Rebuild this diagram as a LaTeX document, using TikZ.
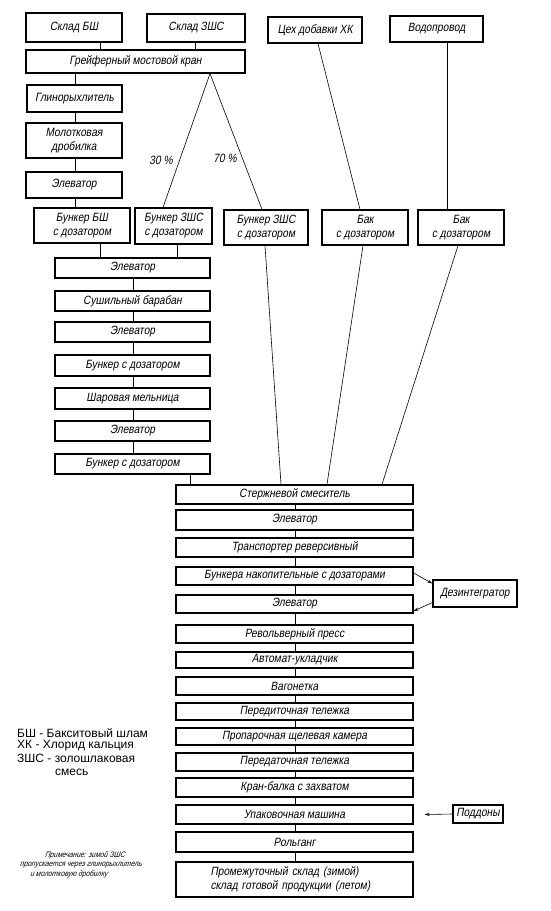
\documentclass[tikz,border=0pt]{standalone}
\usepackage{fontspec}
\setmainfont{Liberation Sans}
\newfontfamily\gost[FakeStretch=0.85,FakeSlant=0.18]{Liberation Sans}
\usetikzlibrary{calc,arrows.meta}
\tikzset{
  box/.style={draw, line width=1.2pt, inner sep=0pt, align=center,
    font=\gost\fontsize{12}{14}\selectfont},
  link/.style={line width=0.6pt},
  arr/.style={line width=0.6pt, -{Stealth[length=5pt,width=3pt]}},
  legend/.style={anchor=west, inner sep=0pt, font=\fontsize{12}{14}\selectfont},
  note/.style={inner sep=0pt, font=\gost\itshape\fontsize{8}{9}\selectfont},
  pct/.style={inner sep=0pt, font=\gost\fontsize{12}{14}\selectfont},
}
\newcommand\bx[6]{\node[box, minimum width={(#4-#2)*1pt}, minimum height={(#5-#3)*1pt}] (#1) at ({(#2+#4)/2},{(#3+#5)/2}) {#6};}
\newcommand\vlink[3]{\draw[link] let \p1=(#1.south), \p2=(#2.north) in (#3pt,\y1) -- (#3pt,\y2);}
\newcommand\slink[4]{\draw[link] let \p1=(#1.south), \p2=(#3.north) in (#2pt,\y1) -- (#4pt,\y2);}
\begin{document}
\begin{tikzpicture}[x=1pt,y=-1pt]
\useasboundingbox (0,0) rectangle (551,911);
% top row
\bx{skladBS}{26}{13}{122}{42}{Склад БШ}
\bx{skladZ}{147}{14}{245}{42}{Склад ЗШС}
\bx{tseh}{268}{17}{362}{43}{Цех добавки ХК}
\bx{vodo}{390}{16}{483}{42}{Водопровод}
\bx{kran}{26}{50}{245}{73}{Грейферный мостовой кран}
\bx{glino}{27}{85}{122}{112}{Глинорыхлитель}
\bx{drob}{26}{123}{122}{158}{Молотковая\\дробилка}
\bx{elev1}{26}{172}{122}{198}{Элеватор}
% bunkers
\bx{bBS}{34}{208}{130}{243}{Бункер БШ\\с дозатором}
\bx{bZa}{135}{208}{212}{244}{Бункер ЗШС\\с дозатором}
\bx{bZb}{224}{210}{308}{245}{Бункер ЗШС\\с дозатором}
\bx{baka}{322}{210}{408}{245}{Бак\\с дозатором}
\bx{bakb}{418}{210}{504}{245}{Бак\\с дозатором}
% left column
\bx{elev2}{55}{258}{210}{278}{Элеватор}
\bx{sush}{55}{291}{210}{311}{Сушильный барабан}
\bx{elev3}{55}{322}{210}{342}{Элеватор}
\bx{bdoza}{55}{355}{210}{376}{Бункер с дозатором}
\bx{shar}{55}{388}{210}{409}{Шаровая мельница}
\bx{elev4}{55}{421}{210}{441}{Элеватор}
\bx{bdozb}{55}{454}{210}{474}{Бункер с дозатором}
% right column
\bx{mix}{176}{485}{413}{504}{Стержневой смеситель}
\bx{elev5}{176}{510}{413}{530}{Элеватор}
\bx{trans}{176}{538}{413}{557}{Транспортер реверсивный}
\bx{bunk}{176}{567}{413}{585}{Бункера накопительные с дозаторами}
\bx{elev6}{176}{595}{413}{613}{Элеватор}
\bx{dez}{433}{580}{517}{607}{Дезинтегратор}
\bx{press}{176}{625}{413}{643}{Револьверный пресс}
\bx{avt}{176}{652}{413}{668}{Автомат-укладчик}
\bx{vag}{176}{677}{413}{695}{Вагонетка}
\bx{pera}{176}{703}{413}{720}{Передиточная тележка}
\bx{prop}{176}{728}{413}{745}{Пропарочная щелевая камера}
\bx{perb}{176}{753}{413}{771}{Передаточная тележка}
\bx{kranb}{176}{778}{413}{797}{Кран-балка с захватом}
\bx{upak}{176}{805}{413}{824}{Упаковочная машина}
\bx{podd}{453}{805}{503}{823}{Поддоны}
\bx{rol}{176}{832}{413}{852}{Рольганг}
\node[box, minimum width=237pt, minimum height=35pt, text width=168pt, align=left] (prom) at (294.5,879.5) {Промежуточный склад (зимой)\\склад готовой продукции (летом)};
% connectors top
\vlink{skladBS}{kran}{100}
\vlink{skladZ}{kran}{195}
\vlink{kran}{glino}{75}
\vlink{glino}{drob}{75}
\vlink{drob}{elev1}{75}
\vlink{elev1}{bBS}{75}
\slink{kran}{210}{bZa}{163}
\slink{kran}{210}{bZb}{262}
\slink{tseh}{318}{baka}{360}
\vlink{vodo}{bakb}{447}
\node[pct] (p30) at (161,160) {30 \%};
\node[pct] (p70) at (225,158) {70 \%};
% left column links
\vlink{bBS}{elev2}{100}
\vlink{bZa}{elev2}{177}
\vlink{elev2}{sush}{133}
\vlink{sush}{elev3}{133}
\vlink{elev3}{bdoza}{133}
\vlink{bdoza}{shar}{133}
\vlink{shar}{elev4}{133}
\vlink{elev4}{bdozb}{133}
\vlink{bdozb}{mix}{190}
\slink{bZb}{265}{mix}{281}
\slink{baka}{363}{mix}{327}
\slink{bakb}{458}{mix}{382}
% right column links
\vlink{mix}{elev5}{295}
\vlink{elev5}{trans}{295}
\vlink{trans}{bunk}{295}
\vlink{bunk}{elev6}{295}
\vlink{elev6}{press}{295}
\vlink{press}{avt}{295}
\vlink{avt}{vag}{295}
\vlink{vag}{pera}{295}
\vlink{pera}{prop}{295}
\vlink{prop}{perb}{295}
\vlink{perb}{kranb}{295}
\vlink{kranb}{upak}{295}
\vlink{upak}{rol}{295}
\vlink{rol}{prom}{295}
\draw[arr] ([yshift=3pt]bunk.east) -- ([yshift=10pt]dez.west);
\draw[arr] ([yshift=-9pt]dez.west) -- ([yshift=-7pt]elev6.east);
\draw[arr] (podd.west) -- ([xshift=11pt]upak.east);
% legend
\node[legend] (lega) at (17,733) {БШ - Бакситовый шлам};
\node[legend] (legb) at (17,745.5) {ХК - Хлорид кальция};
\node[legend] (legc) at (17,758) {ЗШС - золошлаковая};
\node[legend] (legd) at (55,772) {смесь};
% note
\node[note] (nta) at (85,855) {Примечание: зимой ЗШС};
\node[note] (ntb) at (81,865) {пропускается через глинорыхлитель};
\node[note] (ntc) at (69,874) {и молотковую дробилку};
\end{tikzpicture}
\end{document}
